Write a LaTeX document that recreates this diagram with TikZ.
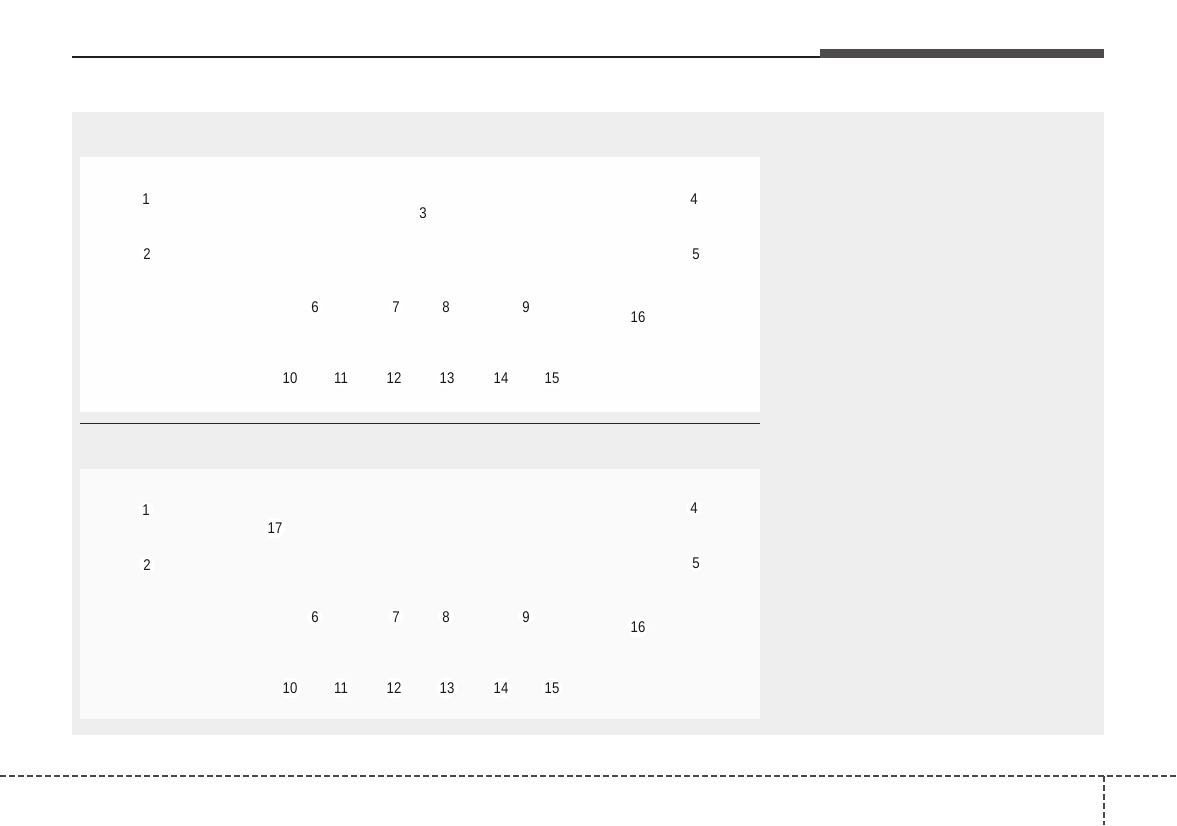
\documentclass[tikz,border=0pt]{standalone}
\usepackage{fontspec}
\setmainfont{Liberation Sans}
\newfontfamily\calloutfont[FakeStretch=0.85]{Liberation Sans}
\usetikzlibrary{positioning}
\definecolor{panelGray}{RGB}{238,238,238}
\definecolor{boxWhite}{RGB}{254,254,254}
\definecolor{boxLight}{RGB}{250,250,250}
\definecolor{barDark}{RGB}{77,75,76}
\definecolor{dashGray}{RGB}{72,72,72}
\tikzset{
  callout/.style={circle,fill=white,inner sep=1pt,text=black!90,
                  text height=11pt,text depth=0pt,
                  font=\calloutfont\fontsize{15.5}{16}\selectfont},
  headrule/.style={draw=black!88,line width=1.1pt},
  splitrule/.style={draw=black!85,line width=1pt},
  footdash/.style={draw=dashGray,line width=2.6pt,dash pattern=on 6pt off 3pt},
}

\begin{document}
\begin{tikzpicture}[x=1pt,y=-1pt]
  \useasboundingbox (0,0) rectangle (1177,825);
  % page header
  \draw[headrule] (72,57) -- (820,57);
  \fill[barDark] (820,49) rectangle (1104,58);
  % grey panel with the two views
  \fill[panelGray] (72,112) rectangle (1104,735);
  \fill[boxWhite] (80,157) rectangle (760,412);
  \draw[splitrule] (80,423) -- (760,423);
  \fill[boxLight] (80,469) rectangle (760,719);
  % upper view
  \foreach \n/\x/\y in {1/146/199, 2/147/254, 3/423/213, 4/694/199, 5/696/254,
      6/315/307, 7/396/307, 8/446/307, 9/526/307, 16/638/317,
      10/290/378, 11/341/378, 12/394/378, 13/447/378, 14/501/378, 15/552/378}
    \node[callout] (up\n) at (\x,\y) {\n};
  % lower view
  \begin{scope}[shift={(0,310)}]
  \foreach \n/\x/\y in {1/146/200, 2/147/255, 17/275/218, 4/694/198, 5/696/253,
      6/315/307, 7/396/307, 8/446/307, 9/526/307, 16/638/317,
      10/290/378, 11/341/378, 12/394/378, 13/447/378, 14/501/378, 15/552/378}
    \node[callout] (low\n) at (\x,\y) {\n};
  \end{scope}
  % page footer
  \draw[footdash] (0,776) -- (1177,776);
  \draw[footdash] (1104,776) -- (1104,825);
\end{tikzpicture}
\end{document}
